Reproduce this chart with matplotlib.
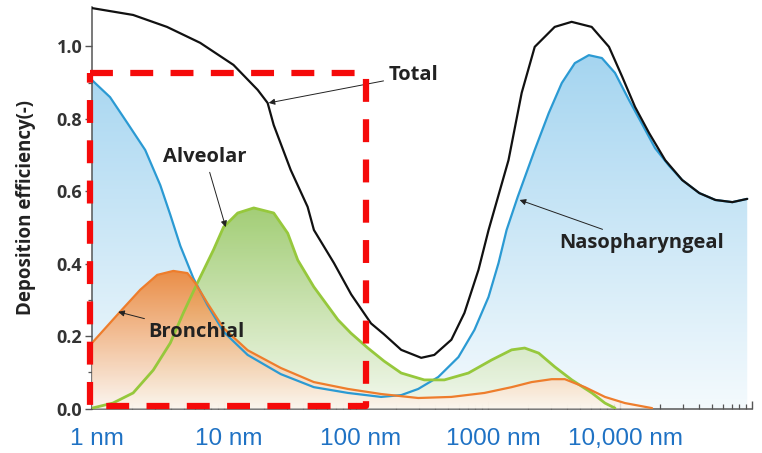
import numpy as np
import matplotlib
matplotlib.use("Agg")
import matplotlib.pyplot as plt
from matplotlib.colors import LinearSegmentedColormap
from matplotlib.ticker import FixedLocator, LogLocator, NullFormatter
from matplotlib.transforms import ScaledTranslation

plt.rcParams['lines.scale_dashes'] = False

# particle diameter (nm) and deposition efficiency
total_x = [1, 2.05, 3.7, 6.6, 11.8, 18, 21.4, 23.8, 32, 43, 48, 68, 92, 130, 163,
           220, 312, 392, 528, 663, 847, 1010, 1430, 1800, 2260, 3200, 4300, 6100,
           8250, 10400, 13000, 16600, 22000, 29600, 39900, 52800, 71000, 92000]
total_y = [1.106, 1.087, 1.054, 1.010, 0.949, 0.880, 0.844, 0.783, 0.659, 0.557,
           0.493, 0.402, 0.315, 0.235, 0.205, 0.162, 0.140, 0.148, 0.190, 0.264,
           0.383, 0.493, 0.686, 0.872, 0.999, 1.054, 1.068, 1.054, 0.999, 0.916,
           0.833, 0.761, 0.686, 0.631, 0.595, 0.576, 0.570, 0.579]

naso_x = [1, 1.37, 1.85, 2.53, 3.29, 3.92, 4.67, 5.86, 7.49, 9.92, 15.1, 26.9, 47.9,
          86.9, 155, 220, 296, 420, 597, 789, 1009, 1202, 1383, 1677, 2258, 2885,
          3622, 4548, 5808, 7291, 9164, 11700, 14690, 18450, 23590, 29600, 39900,
          52800, 71000, 92000]
naso_y = [0.907, 0.860, 0.789, 0.714, 0.617, 0.535, 0.449, 0.360, 0.286, 0.212,
          0.148, 0.095, 0.059, 0.043, 0.032, 0.037, 0.054, 0.087, 0.142, 0.217,
          0.308, 0.402, 0.493, 0.584, 0.714, 0.816, 0.899, 0.954, 0.976, 0.968,
          0.927, 0.852, 0.786, 0.719, 0.670, 0.631, 0.595, 0.576, 0.570, 0.579]

bronch_x = [1, 1.63, 2.32, 3.12, 4.13, 5.28, 6.07, 7.49, 9.92, 15.1, 26.9, 47.9,
            86.9, 155, 296, 528, 940, 1510, 2140, 3040, 3820, 5420, 7690, 10900, 17500]
bronch_y = [0.181, 0.267, 0.328, 0.369, 0.380, 0.374, 0.346, 0.291, 0.222, 0.161,
            0.112, 0.073, 0.054, 0.040, 0.029, 0.032, 0.043, 0.059, 0.073, 0.081,
            0.081, 0.059, 0.032, 0.015, 0.001]

alv_x = [1, 1.44, 2.05, 2.91, 3.92, 4.92, 6.29, 8.32, 9.92, 12.7, 16.8, 23.8, 30.4,
         36.2, 47.9, 73, 91.6, 123, 163, 220, 329, 467, 711, 1064, 1510, 1896, 2421,
         3206, 4313, 6123, 7690, 9164]
alv_y = [0.001, 0.015, 0.043, 0.106, 0.181, 0.264, 0.347, 0.438, 0.501, 0.540,
         0.554, 0.540, 0.484, 0.410, 0.336, 0.245, 0.208, 0.167, 0.131, 0.098,
         0.079, 0.079, 0.098, 0.134, 0.162, 0.167, 0.153, 0.115, 0.079, 0.043,
         0.015, 0.001]

tick_vals = [1, 10, 100, 1000, 10000, 100000]
tick_labels = ['1 nm', '10 nm', '100 nm', '1000 nm', '10,000 nm', '']

fig = plt.figure(figsize=(7.62, 4.53), dpi=100)
ax = fig.add_axes([92 / 762, 1 - 408.5 / 453, 660 / 762, 401.5 / 453])
ax.set_xscale('log')
YMAX = 1.109


def gradient_fill(x, y, c_top, c_bot, ytop, alpha=1.0, z=1):
    poly = ax.fill_between(x, 0, y, facecolor='none', edgecolor='none')
    cmap = LinearSegmentedColormap.from_list('g', [c_bot, c_top])
    grad = np.linspace(0, 1, 256).reshape(-1, 1)
    im = ax.imshow(grad, cmap=cmap, aspect='auto', origin='lower',
                   extent=[0, 1, 0, ytop / YMAX], transform=ax.transAxes,
                   alpha=alpha, zorder=z)
    im.set_clip_path(poly.get_paths()[0], poly.get_transform())


gradient_fill(naso_x, naso_y, '#a3d4f0', '#f4fafd', 1.0, z=1)
gradient_fill(alv_x, alv_y, '#98c866', '#f2f8ec', 0.56, alpha=0.9, z=2)
gradient_fill(bronch_x, bronch_y, '#ee7a22', '#fdf6ef', 0.39, alpha=0.85, z=3)

line_kw = dict(solid_joinstyle='round', solid_capstyle='round')
ax.plot(naso_x, naso_y, color='#2b9ad3', lw=1.6, zorder=5, **line_kw)
ax.plot(alv_x, alv_y, color='#96c83c', lw=2.0, zorder=5, **line_kw)
ax.plot(bronch_x, bronch_y, color='#ee7d2c', lw=1.6, zorder=5, **line_kw)
ax.plot(total_x, total_y, color='#111111', lw=1.6, zorder=6, **line_kw)

ax.set_xlim(1, 1e5)
ax.set_ylim(0, YMAX)

for s in ['top', 'right']:
    ax.spines[s].set_visible(False)
for s in ['left', 'bottom']:
    ax.spines[s].set_color('#555555')
    ax.spines[s].set_linewidth(1.1)

ax.xaxis.set_major_locator(FixedLocator(tick_vals))
ax.set_xticklabels(tick_labels)
ax.xaxis.set_minor_locator(LogLocator(base=10, subs=np.arange(2, 10)))
ax.xaxis.set_minor_formatter(NullFormatter())
ax.tick_params(axis='x', which='major', direction='in', length=6, width=1,
               color='#555555', pad=14, labelsize=17.5, labelcolor='#1f72c4')
ax.tick_params(axis='x', which='minor', direction='in', length=3.5, width=0.9,
               color='#555555')
for lab in ax.get_xticklabels():
    lab.set_fontfamily('Liberation Sans')
    lab.set_transform(lab.get_transform() + ScaledTranslation(0.05, 0, fig.dpi_scale_trans))

ax.set_yticks([0, 0.2, 0.4, 0.6, 0.8, 1.0])
ax.set_yticklabels(['0.0', '0.2', '0.4', '0.6', '0.8', '1.0'])
ax.set_yticks([0.1, 0.3, 0.5, 0.7, 0.9], minor=True)
ax.tick_params(axis='y', which='major', direction='out', length=5, width=1,
               color='#555555', pad=2, labelsize=13, labelcolor='#333333')
ax.tick_params(axis='y', which='minor', direction='out', length=3, width=0.9,
               color='#555555')
for lab in ax.get_yticklabels():
    lab.set_fontfamily('Open Sans')
    lab.set_fontweight('bold')

ax.set_ylabel('Deposition efficiency(-)', fontsize=13.5, fontweight='bold',
              family='Open Sans', color='#222222', labelpad=15)

arrow = dict(arrowstyle='-|>', lw=0.7, color='#222222', mutation_scale=9,
             shrinkA=2, shrinkB=0)
txt = dict(fontsize=14.5, fontweight='bold', family='Open Sans', color='#222222',
           zorder=8)
ax.annotate('Total', xy=(21.8, 0.844), xytext=(178, 0.921), ha='left', va='center',
            arrowprops=arrow, **txt)
ax.annotate('Alveolar', xy=(10.3, 0.501), xytext=(7.2, 0.695), ha='center',
            va='center', arrowprops=arrow, **txt)
ax.annotate('Bronchial', xy=(1.58, 0.267), xytext=(2.67, 0.211), ha='left',
            va='center', arrowprops=arrow, **txt)
ax.annotate('Nasopharyngeal', xy=(1737, 0.576), xytext=(3440, 0.457), ha='left',
            va='center', arrowprops=arrow, **txt)

# red dashed box
ax.plot([0.974, 120, 120, 0.974, 0.974], [0.928, 0.928, 0.008, 0.008, 0.928],
        color='#f50a0a', lw=4.5, dashes=(16.5, 12.5), clip_on=False, zorder=10,
        dash_capstyle='butt')

fig.savefig('out.png', dpi=100)
